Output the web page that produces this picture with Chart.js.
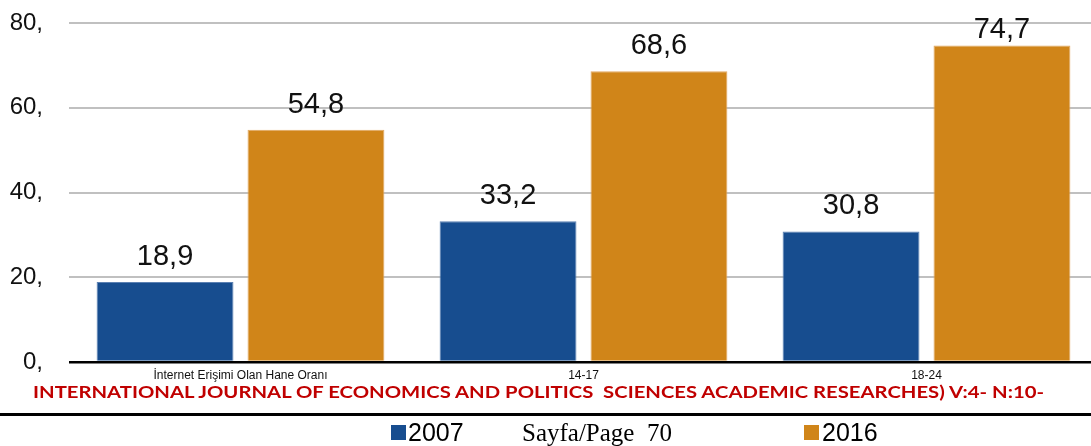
<!DOCTYPE html>
<html>
<head>
<meta charset="utf-8">
<script src="https://cdn.jsdelivr.net/npm/chart.js@4"></script>
<style>
  html, body { margin:0; padding:0; background:#fff; overflow:hidden; width:1091px; height:446px; }
  #wrap { position:absolute; left:0; top:0; width:1100px; height:446px; }
  .ov { position:absolute; white-space:nowrap; }
  #journal { left:33px; top:383px; font-family:Lato,"Open Sans",Arial,sans-serif; font-weight:bold; font-size:17.5px; line-height:17.5px; color:#c00000; transform-origin:0 0; }
  #rule { position:absolute; left:0; top:413px; width:1091px; height:3px; background:#000; }
  .sq { position:absolute; width:15px; height:15px; top:425px; }
  .lg { font-family:Arial,"Liberation Sans",sans-serif; font-size:25px; line-height:25px; top:420px; color:#000; }
  #page { font-family:"Liberation Serif","Times New Roman",serif; font-size:25px; line-height:25px; top:420px; left:522px; color:#000; }
</style>
</head>
<body>
<div id="wrap"><canvas id="c" width="1100" height="446"></canvas></div>
<div class="ov" id="journal">INTERNATIONAL JOURNAL OF ECONOMICS AND POLITICS&nbsp; SCIENCES ACADEMIC RESEARCHES) V:4- N:10-</div>
<div id="rule"></div>
<div class="sq" style="left:391px;background:#174d8f"></div>
<div class="ov lg" style="left:408px">2007</div>
<div class="ov" id="page">Sayfa/Page&nbsp; 70</div>
<div class="sq" style="left:804px;background:#d08519"></div>
<div class="ov lg" style="left:822px">2016</div>
<script>
const categories = ["İnternet Erişimi Olan Hane Oranı", "14-17", "18-24"];
const series2007 = [18.9, 33.2, 30.8];
const series2016 = [54.8, 68.6, 74.7];
const seriesNames = ["2007", "2016"];
const yTicks = [0, 20, 40, 60, 80];

const j = document.getElementById('journal');
const jw = j.getBoundingClientRect().width;
j.style.transform = 'scaleX(' + (1011 / jw) + ')';

const labelPlugin = {
  id: 'valueLabels',
  afterDatasetsDraw(chart) {
    const ctx = chart.ctx;
    ctx.save();
    ctx.font = '29px Arial, "Liberation Sans", sans-serif';
    ctx.fillStyle = '#111';
    ctx.textAlign = 'center';
    ctx.textBaseline = 'alphabetic';
    chart.data.datasets.forEach((ds, di) => {
      chart.getDatasetMeta(di).data.forEach((bar, i) => {
        const txt = String(ds.data[i]).replace('.', ',');
        const y = Math.max(bar.y - 17, 38);
        ctx.fillText(txt, bar.x, y);
      });
    });
    ctx.restore();
  }
};

const chart = new Chart(document.getElementById('c'), {
  type: 'bar',
  data: {
    labels: categories,
    datasets: [
      { label: seriesNames[0], data: series2007, backgroundColor: '#174d8f', borderColor: '#5b80b2', borderWidth: {left:1, right:1, top:1, bottom:0}, categoryPercentage: 0.88, barPercentage: 0.907 },
      { label: seriesNames[1], data: series2016, backgroundColor: '#d08519', borderColor: '#e2a862', borderWidth: {left:1, right:1, top:1, bottom:0}, categoryPercentage: 0.88, barPercentage: 0.907 }
    ]
  },
  options: {
    responsive: false,
    animation: false,
    devicePixelRatio: 1,
    layout: { padding: { top: 23, left: 0, right: 2, bottom: 0 } },
    plugins: { legend: { display: false }, tooltip: { enabled: false } },
    scales: {
      x: {
        grid: { display: false, drawTicks: false },
        border: { display: false },
        ticks: { padding: 6, color: '#111', font: { family: '"Liberation Sans Narrow","Arial Narrow",Arial,sans-serif', size: 12 }, maxRotation: 0, autoSkip: false },
        afterFit(s) { s.height = 84; }
      },
      y: {
        min: 0, max: 80,
        afterBuildTicks(s) { s.ticks = yTicks.map(v => ({ value: v })); },
        ticks: { padding: 26, color: '#111', font: { family: 'Arial, "Liberation Sans", sans-serif', size: 24 }, callback: v => v + ',' },
        grid: {
          drawTicks: false,
          color: c => c.tick && c.tick.value === 0 ? '#000' : '#c0c0c0',
          lineWidth: c => c.tick && c.tick.value === 0 ? 2.5 : 2
        },
        border: { display: false },
        afterFit(s) { s.width = 69; s.paddingTop = 0; s.paddingBottom = 0; }
      }
    }
  },
  plugins: [labelPlugin]
});
</script>
</body>
</html>
